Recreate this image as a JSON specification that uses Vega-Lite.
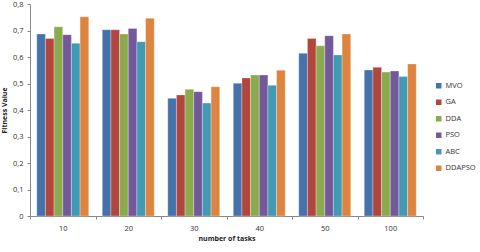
{
  "$schema": "https://vega.github.io/schema/vega-lite/v6.json",
  "autosize": {"type": "none"},
  "padding": {"left": 30, "top": 4, "right": 57, "bottom": 36},
  "width": 393,
  "height": 212,
  "background": "white",
  "config": {
    "view": {"stroke": null},
    "font": "Open Sans",
    "axis": {"labelFont": "Open Sans", "titleFont": "Open Sans", "labelColor": "#333333", "titleColor": "#222222", "domainColor": "#888888", "tickColor": "#888888", "grid": false, "labelFontSize": 7.5, "titleFontSize": 7, "titleFontWeight": "bold"},
    "legend": {"labelFont": "Open Sans", "labelFontSize": 7.5, "labelColor": "#333333"}
  },
  "data": {
    "values": [
      {"tasks": "10", "alg": "MVO", "v": 0.687},
      {"tasks": "10", "alg": "GA", "v": 0.670},
      {"tasks": "10", "alg": "DDA", "v": 0.714},
      {"tasks": "10", "alg": "PSO", "v": 0.684},
      {"tasks": "10", "alg": "ABC", "v": 0.652},
      {"tasks": "10", "alg": "DDAPSO", "v": 0.752},
      {"tasks": "20", "alg": "MVO", "v": 0.703},
      {"tasks": "20", "alg": "GA", "v": 0.703},
      {"tasks": "20", "alg": "DDA", "v": 0.687},
      {"tasks": "20", "alg": "PSO", "v": 0.708},
      {"tasks": "20", "alg": "ABC", "v": 0.658},
      {"tasks": "20", "alg": "DDAPSO", "v": 0.746},
      {"tasks": "30", "alg": "MVO", "v": 0.444},
      {"tasks": "30", "alg": "GA", "v": 0.457},
      {"tasks": "30", "alg": "DDA", "v": 0.478},
      {"tasks": "30", "alg": "PSO", "v": 0.469},
      {"tasks": "30", "alg": "ABC", "v": 0.426},
      {"tasks": "30", "alg": "DDAPSO", "v": 0.488},
      {"tasks": "40", "alg": "MVO", "v": 0.501},
      {"tasks": "40", "alg": "GA", "v": 0.521},
      {"tasks": "40", "alg": "DDA", "v": 0.532},
      {"tasks": "40", "alg": "PSO", "v": 0.532},
      {"tasks": "40", "alg": "ABC", "v": 0.493},
      {"tasks": "40", "alg": "DDAPSO", "v": 0.550},
      {"tasks": "50", "alg": "MVO", "v": 0.614},
      {"tasks": "50", "alg": "GA", "v": 0.670},
      {"tasks": "50", "alg": "DDA", "v": 0.642},
      {"tasks": "50", "alg": "PSO", "v": 0.680},
      {"tasks": "50", "alg": "ABC", "v": 0.608},
      {"tasks": "50", "alg": "DDAPSO", "v": 0.687},
      {"tasks": "100", "alg": "MVO", "v": 0.551},
      {"tasks": "100", "alg": "GA", "v": 0.561},
      {"tasks": "100", "alg": "DDA", "v": 0.543},
      {"tasks": "100", "alg": "PSO", "v": 0.547},
      {"tasks": "100", "alg": "ABC", "v": 0.526},
      {"tasks": "100", "alg": "DDAPSO", "v": 0.574}
    ]
  },
  "mark": {"type": "bar", "stroke": "#ffffff", "strokeWidth": 0.3},
  "encoding": {
    "x": {
      "field": "tasks", "type": "nominal", "sort": ["10", "20", "30", "40", "50", "100"],
      "scale": {"paddingInner": 0, "paddingOuter": 0},
      "axis": {"title": "number of tasks", "labelAngle": 0, "tickBand": "extent", "tickSize": 3, "labelPadding": 5, "titlePadding": 3}
    },
    "xOffset": {
      "field": "alg", "type": "nominal", "sort": ["MVO", "GA", "DDA", "PSO", "ABC", "DDAPSO"],
      "scale": {"paddingInner": 0, "paddingOuter": 0.78}
    },
    "y": {
      "field": "v", "type": "quantitative",
      "scale": {"domain": [0, 0.8], "nice": false},
      "axis": {"title": "Fitness Value", "values": [0, 0.1, 0.2, 0.3, 0.4, 0.5, 0.6, 0.7, 0.8], "tickSize": 3, "labelPadding": 4, "titlePadding": 5,
        "labelExpr": "datum.value == 0 ? '0' : replace(format(datum.value, '.1f'), '.', ',')"}
    },
    "color": {
      "field": "alg", "type": "nominal", "sort": ["MVO", "GA", "DDA", "PSO", "ABC", "DDAPSO"],
      "scale": {"domain": ["MVO", "GA", "DDA", "PSO", "ABC", "DDAPSO"], "range": ["#4672AB", "#B1463F", "#8BAA4E", "#73589A", "#4299B4", "#DD8540"]},
      "legend": {"title": null, "orient": "none", "legendX": 405, "legendY": 78, "symbolType": "square", "symbolSize": 30, "symbolStrokeWidth": 0, "rowPadding": 7.5, "labelOffset": 3}
    }
  }
}
